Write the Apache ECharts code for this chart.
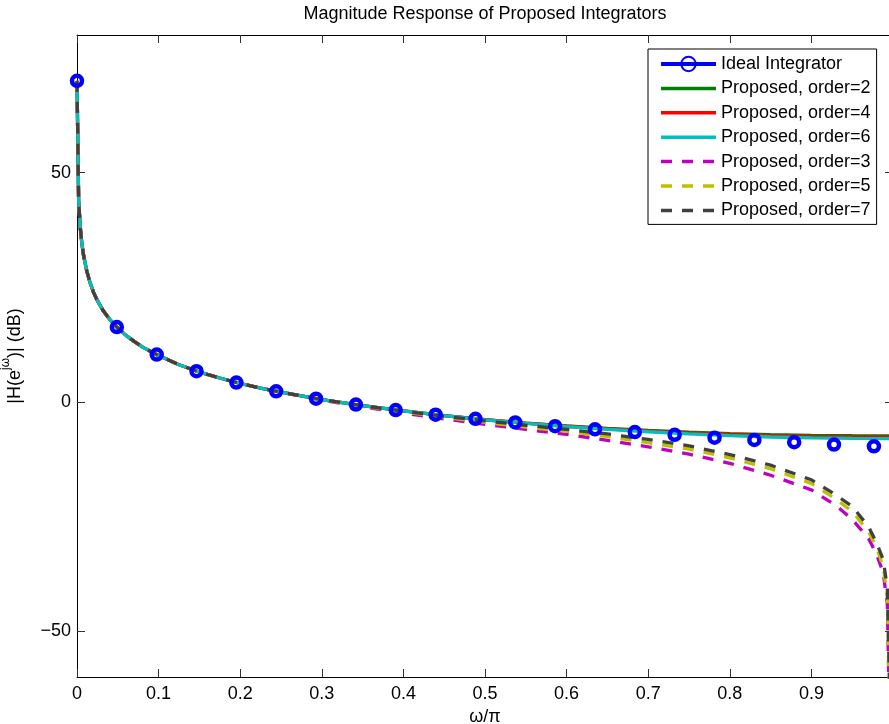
<!DOCTYPE html>
<html><head><meta charset="utf-8">
<script src="https://cdn.jsdelivr.net/npm/echarts@6/dist/echarts.min.js"></script>
<style>html,body{margin:0;padding:0;background:#fff}#c{width:889px;height:724px}</style>
</head><body><div id="c"></div>
<script>
const FONT = '"Liberation Sans", Arial, Helvetica, sans-serif';

const titleText = 'Magnitude Response of Proposed Integrators';
const xName = 'ω/π';
const yName = '|H(e{sup|jω})| (dB)';
const seriesNames = ['Ideal Integrator', 'Proposed, order=2', 'Proposed, order=4', 'Proposed, order=6',
  'Proposed, order=3', 'Proposed, order=5', 'Proposed, order=7'];
const yTickValues = [-50, 0, 50];

// ideal integrator markers (omega/pi, dB)
const idealX = [0, 0.0488, 0.0977, 0.1465, 0.1953, 0.2441, 0.2930, 0.3418, 0.3906, 0.4395, 0.4883,
  0.5371, 0.5859, 0.6348, 0.6836, 0.7324, 0.7813, 0.8301, 0.8789, 0.9277, 0.9766];
const idealDb = [70, 16.3, 10.3, 6.7, 4.2, 2.3, 0.7, -0.6, -1.8, -2.8, -3.7,
  -4.5, -5.3, -6.0, -6.6, -7.2, -7.8, -8.3, -8.8, -9.3, -9.7];

// common low-frequency part of all proposed integrators
const lowX = [0, 0.002, 0.004, 0.006, 0.008, 0.012, 0.016, 0.02, 0.024, 0.032, 0.04, 0.05, 0.06, 0.07,
  0.08, 0.09, 0.1, 0.125, 0.15, 0.175, 0.2, 0.225, 0.25];
const lowDb = [70, 44.0, 38.0, 34.5, 32.0, 28.5, 26.0, 24.0, 22.4, 19.9, 18.0, 16.1, 14.5, 13.2,
  12.0, 11.0, 10.1, 8.1, 6.5, 5.2, 4.0, 3.0, 2.1];

// even orders (solid)
const solidTailX = [0.3, 0.35, 0.4, 0.45, 0.5, 0.55, 0.6, 0.65, 0.7, 0.75, 0.8, 0.85, 0.9, 0.95, 1.0];
const order2Db = [0.5, -0.82, -1.97, -2.99, -3.87, -4.62, -5.25, -5.78, -6.22, -6.6, -6.92, -7.15, -7.3, -7.38, -7.42];
const order4Db = [0.5, -0.82, -1.98, -3.0, -3.9, -4.66, -5.32, -5.88, -6.36, -6.78, -7.12, -7.38, -7.56, -7.66, -7.7];
const order6Db = [0.5, -0.82, -1.98, -3.0, -3.92, -4.7, -5.4, -6.0, -6.52, -6.98, -7.37, -7.66, -7.86, -7.98, -8.02];

// odd orders (dashed)
const dashTailX = [0.3, 0.35, 0.4, 0.45, 0.5, 0.55, 0.6, 0.65, 0.7, 0.75, 0.8, 0.85, 0.9, 0.93, 0.95,
  0.97, 0.98, 0.988, 0.993, 0.995, 0.997];
const order3Db = [0.35, -1.1, -2.45, -3.7, -4.9, -6.0, -7.1, -8.4, -9.8, -11.4, -13.4, -16.0, -19.2, -22.6, -25.6,
  -29.8, -33.3, -37.3, -44, -62, -80];
const order5Db = [0.45, -0.95, -2.2, -3.35, -4.45, -5.5, -6.4, -7.6, -8.9, -10.3, -12.2, -14.6, -17.8, -21.2, -23.9,
  -28.3, -31.8, -35.9, -42.5, -60, -78];
const order7Db = [0.5, -0.85, -2.05, -3.15, -4.15, -5.1, -6.0, -7.0, -8.2, -9.6, -11.5, -13.8, -17.0, -20.3, -22.8,
  -27.2, -30.8, -34.4, -40.5, -56, -75];

const colors = ['#0000ff', '#008000', '#ff0000', '#00bfbf', '#bf00bf', '#bfbf00', '#404040'];

function pairs(xs, ys) { return xs.map((x, i) => [x, ys[i]]); }

const curveData = [
  pairs(lowX.concat(solidTailX), lowDb.concat(order2Db)),
  pairs(lowX.concat(solidTailX), lowDb.concat(order4Db)),
  pairs(lowX.concat(solidTailX), lowDb.concat(order6Db)),
  pairs(lowX.concat(dashTailX), lowDb.concat(order3Db)),
  pairs(lowX.concat(dashTailX), lowDb.concat(order5Db)),
  pairs(lowX.concat(dashTailX), lowDb.concat(order7Db))
];

const DASH = [11, 10];
const series = [];
series.push({
  name: seriesNames[0], type: 'line', data: pairs(idealX, idealDb),
  symbol: 'circle', symbolSize: 10, showSymbol: true, z: 5,
  itemStyle: { color: 'rgba(0,0,0,0)', borderColor: colors[0], borderWidth: 4.5 },
  lineStyle: { color: colors[0], width: 4, opacity: 0 },
  emphasis: { disabled: true }
});
for (let i = 0; i < 6; i++) {
  const dashed = i >= 3;
  series.push({
    name: seriesNames[i + 1], type: 'line', data: curveData[i],
    symbol: 'none', showSymbol: false, z: 2 + i * 0.1, clip: true,
    itemStyle: { color: colors[i + 1] },
    lineStyle: { color: colors[i + 1], width: 3.3, type: dashed ? DASH : 'solid', cap: 'butt' },
    emphasis: { disabled: true }
  });
}

const legendData = seriesNames.map((n, i) => {
  if (i === 0) return { name: n, lineStyle: { opacity: 1, width: 4, color: colors[0] } };
  return {
    name: n,
    itemStyle: { opacity: 0 },
    lineStyle: { width: 3.5, color: colors[i] }
  };
});

const chart = echarts.init(document.getElementById('c'), null, { renderer: 'canvas' });
const axisLineStyle = { color: '#000', width: 1 };
const tickStyle = { color: '#333', width: 1 };
chart.setOption({
  animation: false,
  backgroundColor: '#fff',
  textStyle: { fontFamily: FONT },
  title: {
    text: titleText, left: 485, top: 5, padding: 0, textAlign: 'center',
    textStyle: { fontFamily: FONT, fontSize: 18, fontWeight: 'normal', color: '#000' }
  },
  legend: {
    data: legendData, orient: 'vertical', left: 648, top: 49,
    padding: [6, 6, 5, 11], itemGap: 6.4, itemWidth: 55, itemHeight: 18,
    backgroundColor: '#fff', borderColor: '#000', borderWidth: 1,
    selectedMode: false,
    textStyle: { fontFamily: FONT, fontSize: 18, color: '#000', lineHeight: 18 }
  },
  grid: { left: 77, top: 35, right: -4, bottom: 47, containLabel: false, outerBoundsMode: 'none' },
  xAxis: [{
    type: 'value', min: 0, max: 1, interval: 0.1, position: 'bottom',
    name: xName, nameLocation: 'middle', nameGap: 29,
    nameTextStyle: { fontFamily: FONT, fontSize: 18, color: '#000' },
    axisLine: { show: true, onZero: false, lineStyle: axisLineStyle },
    axisTick: { show: true, inside: true, length: 8, lineStyle: tickStyle },
    axisLabel: {
      show: true, margin: 8, fontFamily: FONT, fontSize: 18, color: '#000',
      formatter: v => (Math.abs(v - 1) < 1e-9 ? '' : String(+v.toFixed(1)))
    },
    splitLine: { show: false }
  }, {
    type: 'value', min: 0, max: 1, interval: 0.1, position: 'top',
    axisLine: { show: true, onZero: false, lineStyle: axisLineStyle },
    axisTick: { show: true, inside: true, length: 8, lineStyle: tickStyle },
    axisLabel: { show: false }, splitLine: { show: false }
  }],
  yAxis: [{
    type: 'value', min: -60, max: 80, interval: 10, position: 'left',
    name: yName, nameLocation: 'middle', nameGap: 40,
    nameTextStyle: {
      fontFamily: FONT, fontSize: 18, color: '#000', lineHeight: 30,
      rich: { sup: { fontFamily: FONT, fontSize: 12, color: '#000', lineHeight: 12, verticalAlign: 'top' } }
    },
    axisLine: { show: true, onZero: false, lineStyle: axisLineStyle },
    axisTick: { show: true, inside: true, length: 8, lineStyle: tickStyle, customValues: yTickValues },
    axisLabel: {
      show: true, margin: 6, fontFamily: FONT, fontSize: 18, color: '#000', customValues: yTickValues,
      formatter: v => (v < 0 ? '\u2212' + Math.abs(v) : String(v))
    },
    splitLine: { show: false }
  }, {
    type: 'value', min: -60, max: 80, interval: 10, position: 'right',
    axisLine: { show: true, onZero: false, lineStyle: axisLineStyle },
    axisTick: { show: true, inside: true, length: 8, lineStyle: tickStyle, customValues: yTickValues },
    axisLabel: { show: false }, splitLine: { show: false }
  }],
  series: series
});
</script>
</body></html>
